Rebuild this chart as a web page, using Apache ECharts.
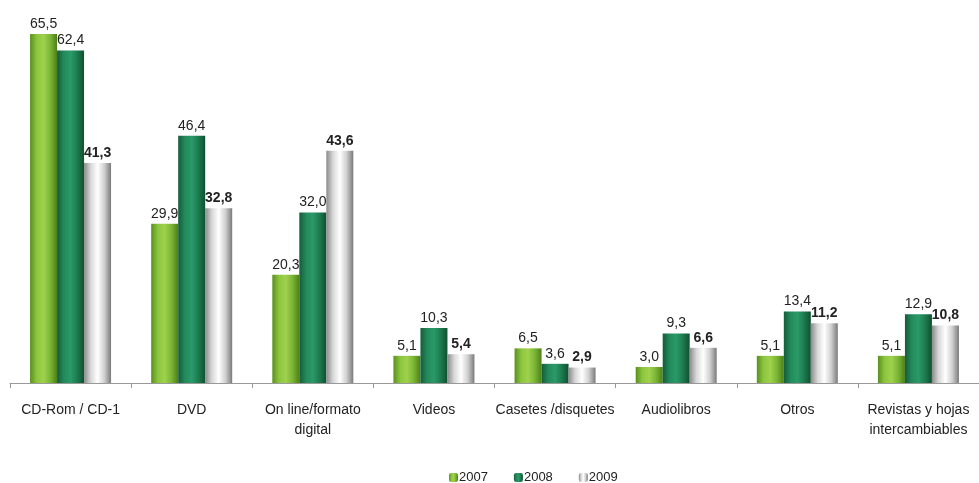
<!DOCTYPE html>
<html><head><meta charset="utf-8">
<script src="https://cdn.jsdelivr.net/npm/echarts@6/dist/echarts.min.js"></script>
<style>html,body{margin:0;padding:0;background:#fff}#c{width:979px;height:483px}</style>
</head><body><div id="c"></div>
<script>
const categories = ['CD-Rom / CD-1','DVD','On line/formato\ndigital','Videos','Casetes /disquetes','Audiolibros','Otros','Revistas y hojas\nintercambiables'];
const years = ['2007','2008','2009'];
const v2007 = [65.5, 29.9, 20.3, 5.1, 6.5, 3.0, 5.1, 5.1];
const v2008 = [62.4, 46.4, 32.0, 10.3, 3.6, 9.3, 13.4, 12.9];
const v2009 = [41.3, 32.8, 43.6, 5.4, 2.9, 6.6, 11.2, 10.8];

const FONT = '"Liberation Sans Narrow", "Liberation Sans", Arial, sans-serif';
function grad(stops){return new echarts.graphic.LinearGradient(0,0,1,0,stops.map((c,i)=>({offset:i/(stops.length-1),color:c})));}
const colors = [
  grad(['#5a8f1e','#8cc63e','#9fd14d','#7ab535','#4e7f18']),
  grad(['#145c3a','#238a5c','#2a9a68','#1d7a50','#10502f']),
  grad(['#8a8a8a','#d8d8d8','#ffffff','#d0d0d0','#7a7a7a'])
];
const fmt = p => p.value.toFixed(1).replace('.', ',');
const data = [v2007, v2008, v2009];
const series = data.map((d,i)=>({
  name: years[i], type:'bar', data:d, barWidth:27, barGap:'0%',
  itemStyle:{color:colors[i]},
  label:{show:true, position:'top', distance:3, formatter:fmt, fontFamily:FONT, fontSize:14,
    color:'#222', fontWeight: i===2?'bold':'normal'}
}));
const chart = echarts.init(document.getElementById('c'));
chart.setOption({
  animation:false,
  textStyle:{fontFamily:FONT},
  legend:{bottom:-6, left:444, itemWidth:9, itemHeight:9, itemGap:26,
    textStyle:{fontFamily:FONT, fontSize:13, color:'#222', padding:[0,0,0,-4]},
    data:years.map((y,i)=>({name:y, itemStyle:{color:colors[i]}}))},
  grid:{left:10, top:10, width:976, height:373},
  xAxis:{type:'category', data:categories,
    axisLine:{lineStyle:{color:'#999'}},
    axisTick:{show:true, alignWithLabel:false, length:5, lineStyle:{color:'#999'}},
    axisLabel:{interval:0, fontFamily:FONT, fontSize:14, color:'#222', margin:17, lineHeight:20}},
  yAxis:{type:'value', min:0, max:70, show:false, splitLine:{show:false}},
  series
});
</script></body></html>
